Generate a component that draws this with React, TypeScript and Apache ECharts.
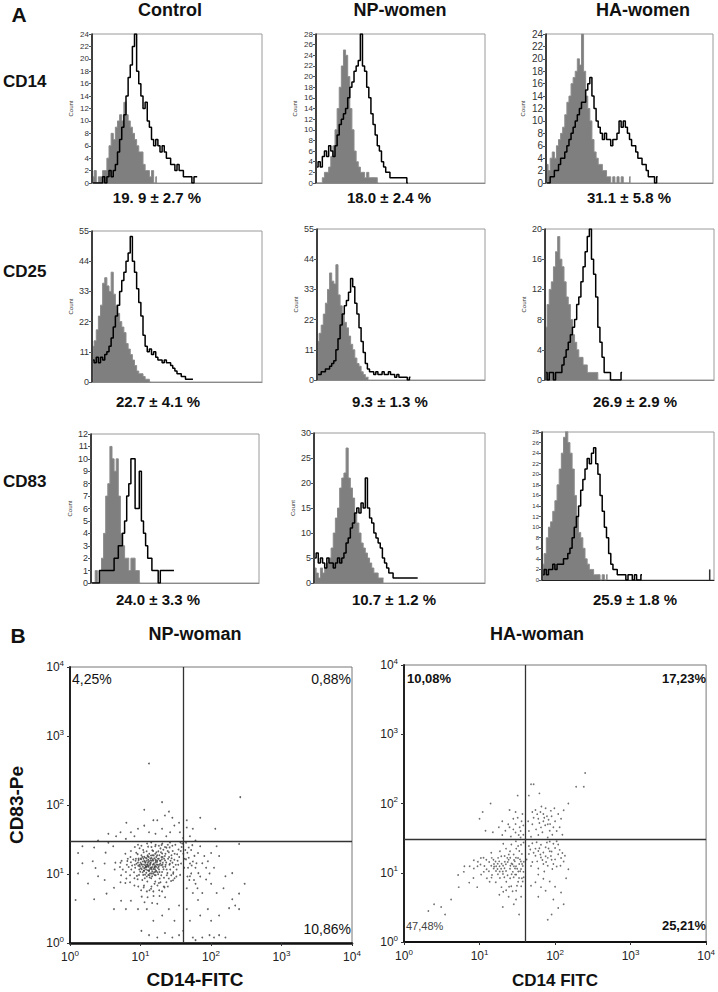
import React, { useEffect, useRef } from 'react';
import * as echarts from 'echarts';

// ---------- texts ----------
const columnTitles = ['Control', 'NP-women', 'HA-women'];
const markerNames = ['CD14', 'CD25', 'CD83'];
const percentLabels = [
  ['19. 9 ± 2.7 %', '18.0 ± 2.4 %', '31.1 ± 5.8 %'],
  ['22.7 ± 4.1 %', '9.3 ± 1.3 %', '26.9 ± 2.9 %'],
  ['24.0 ± 3.3 %', '10.7 ± 1.2 %', '25.9 ± 1.8 %'],
];
const countMax = [[24, 28, 24], [55, 55, 20], [12, 30, 28]];
const countStep = [[2, 2, 2], [11, 11, 4], [1, 5, 2]];
const binCount = 80;

// ---------- histogram data (counts per channel bin) ----------
// gray = isotype control, black = stained
const ctrlCD14Iso = [1, 2, 0, 1, 1, 2, 2, 4, 6, 8, 7, 9, 10, 11, 10, 13, 11, 10, 9, 8, 7, 6, 5, 5, 3, 2, 2, 1, 2, 0, 1];
const ctrlCD14Stain = [0, 0, 0, 0, 0, 1, 0, 1, 2, 1, 2, 3, 5, 7, 9, 11, 14, 17, 19, 22, 24, 18, 16, 14, 12, 13, 10, 9, 7, 6, 7, 6, 5, 6, 5, 4, 4, 3, 3, 2, 3, 2, 2, 1, 1, 1, 1, 0, 1, 1];
const npCD14Iso = [0, 0, 0, 1, 2, 2, 3, 5, 7, 10, 14, 18, 22, 25, 24, 20, 14, 10, 6, 4, 3, 2, 2, 1, 2, 1, 1, 1, 1, 0];
const npCD14Stain = [3, 4, 3, 5, 6, 5, 7, 6, 5, 7, 9, 11, 12, 13, 14, 16, 18, 19, 21, 22, 23, 28, 22, 21, 18, 16, 13, 11, 9, 7, 6, 4, 3, 2, 2, 1, 1, 1, 1, 1, 1, 1, 1, 0];
const haCD14Iso = [3, 2, 4, 5, 4, 6, 7, 8, 9, 11, 13, 14, 16, 17, 18, 20, 19, 24, 18, 14, 12, 10, 7, 5, 4, 3, 3, 2, 2, 1, 1, 0, 1, 0, 1, 0, 1, 0, 0, 0, 1];
const haCD14Stain = [0, 0, 1, 1, 2, 2, 3, 4, 4, 5, 6, 7, 8, 9, 10, 11, 12, 13, 13, 15, 16, 17, 14, 12, 10, 9, 8, 7, 8, 7, 7, 6, 7, 7, 8, 10, 9, 10, 9, 8, 7, 6, 6, 5, 4, 4, 3, 3, 2, 1, 1, 1, 0, 1];
const ctrlCD25Iso = [13, 15, 19, 24, 28, 36, 38, 35, 33, 40, 32, 28, 25, 22, 20, 18, 14, 12, 10, 8, 6, 4, 3, 3, 2, 1, 1, 0];
const ctrlCD25Stain = [8, 7, 9, 7, 9, 8, 10, 11, 13, 16, 20, 24, 28, 33, 37, 40, 44, 47, 53, 44, 40, 34, 29, 24, 17, 13, 11, 12, 10, 11, 9, 8, 8, 7, 8, 7, 7, 6, 5, 4, 3, 3, 2, 2, 1, 1, 1, 1];
const npCD25Iso = [14, 17, 20, 24, 28, 33, 39, 36, 35, 42, 31, 27, 24, 21, 19, 16, 13, 11, 8, 6, 5, 3, 2, 1, 1];
const npCD25Stain = [2, 2, 3, 3, 4, 4, 5, 6, 7, 11, 15, 20, 24, 27, 29, 32, 37, 34, 28, 24, 19, 14, 10, 6, 4, 3, 3, 2, 3, 2, 2, 3, 2, 2, 3, 2, 2, 1, 2, 1, 1, 1, 1, 0, 1];
const haCD25Iso = [7, 10, 12, 13, 15, 17, 19, 16, 15, 13, 11, 10, 8, 6, 5, 4, 3, 3, 2, 2, 1, 1, 1, 1, 1, 0];
const haCD25Stain = [1, 0, 1, 1, 0, 1, 1, 1, 2, 3, 4, 5, 6, 7, 8, 10, 11, 13, 15, 17, 19, 20, 16, 14, 11, 7, 5, 3, 1, 1, 1, 0, 0, 0, 0, 0, 1];
const ctrlCD83Iso = [0, 0, 1, 0, 1, 2, 4, 7, 8, 11, 10, 9, 10, 7, 4, 3, 2, 2, 1, 2, 2, 1, 1, 0];
const ctrlCD83Stain = [0, 0, 0, 0, 1, 1, 1, 1, 1, 1, 1, 2, 2, 3, 3, 4, 5, 7, 8, 10, 10, 6, 6, 9, 5, 4, 3, 2, 2, 1, 1, 1, 0, 1, 1, 1, 1, 1, 1, 1];
const npCD83Iso = [3, 2, 1, 3, 2, 3, 4, 5, 7, 10, 13, 15, 19, 21, 22, 27, 21, 19, 17, 14, 12, 10, 8, 7, 6, 5, 4, 3, 2, 2, 1, 1, 1];
const npCD83Stain = [5, 6, 4, 5, 4, 3, 5, 4, 4, 3, 4, 5, 4, 5, 6, 8, 9, 11, 12, 14, 15, 14, 16, 15, 21, 15, 13, 12, 10, 9, 8, 7, 5, 4, 3, 2, 2, 1, 1, 1, 1, 1, 1, 1, 1, 1, 1, 1, 1];
const haCD83Iso = [3, 5, 8, 10, 11, 13, 15, 18, 21, 24, 27, 29, 26, 24, 21, 16, 12, 9, 8, 6, 4, 3, 2, 2, 1, 1, 1, 0, 1, 0, 1];
const haCD83Stain = [1, 2, 1, 2, 2, 3, 2, 3, 3, 3, 4, 4, 5, 6, 8, 10, 12, 14, 17, 19, 21, 23, 22, 24, 25, 22, 20, 16, 13, 10, 8, 5, 3, 2, 2, 1, 1, 1, 1, 0, 1, 1, 0, 1, 0, 0, 1];
const haCD83StainTail = [[78, 2]];

const histData = [
  [[ctrlCD14Iso, ctrlCD14Stain], [npCD14Iso, npCD14Stain], [haCD14Iso, haCD14Stain]],
  [[ctrlCD25Iso, ctrlCD25Stain], [npCD25Iso, npCD25Stain], [haCD25Iso, haCD25Stain]],
  [[ctrlCD83Iso, ctrlCD83Stain], [npCD83Iso, npCD83Stain], [haCD83Iso, haCD83Stain]],
];

// ---------- dot plot data (CD14-FITC, CD83-Pe) ----------
const gateFITC = 40;
const gatePe = 30;
const npQuadrants = ['4,25%', '0,88%', '10,86%'];
const haQuadrants = ['10,08%', '17,23%', '47,48%', '25,21%'];

const npPoints = [
  [12.4,13.6],[15.3,11.8],[10.2,16.4],[18.6,10.7],[9.3,13.2],[14.1,18.5],[20.7,14.6],[11.6,9.8],[16.2,19.7],[13.5,8.9],[8.4,12.3],[22.5,12.8],[17.3,15.6],[12.2,21.4],[10.6,8.2],[25.4,17.6],[14.7,10.9],[19.2,23.5],[7.3,14.8],[11.3,17.7],
  [15.8,7.2],[23.6,9.6],[9.1,19.4],[13.2,15.3],[16.6,12.7],[20.3,19.8],[8.2,8.7],[28.4,14.6],[12.7,11.3],[18.2,16.6],[10.4,11.7],[14.3,24.6],[21.5,8.8],[6.2,10.7],[17.6,12.2],[11.2,13.7],[24.3,21.5],[13.8,16.8],[9.5,9.7],[19.6,13.4],
  [15.2,15.7],[12.5,7.8],[26.4,11.6],[8.6,16.6],[16.4,9.6],[20.6,17.6],[10.3,18.7],[14.6,12.6],[30.5,19.6],[11.7,12.4],[18.4,13.6],[13.3,19.6],[7.4,11.6],[22.3,15.7],[15.6,10.6],[9.2,14.7],[17.2,18.6],[12.3,15.6],[25.7,13.6],[10.7,10.6],
  [14.2,8.7],[19.5,20.6],[16.3,14.7],[11.4,15.5],[21.2,11.7],[13.6,11.8],[8.3,13.6],[27.5,18.7],[12.1,12.6],[15.4,18.6],[18.7,8.6],[10.5,13.6],[23.2,14.7],[14.5,15.6],[9.4,16.7],[16.7,17.6],[20.2,10.7],[12.6,18.6],[11.5,8.7],[17.5,13.6],
  [13.4,9.6],[24.6,16.6],[10.1,16.7],[15.5,13.7],[19.3,15.6],[14.4,11.6],[8.1,10.6],[22.6,19.6],[12.8,14.7],[18.3,11.6],[11.1,20.6],[16.5,15.5],[13.7,13.6],[29.4,12.6],[9.6,11.6],[15.1,21.6],[20.5,13.6],[10.8,12.7],[17.4,10.6],[14.8,18.7],
  [12.9,9.7],[21.6,16.6],[11.8,14.6],[19.7,9.6],[13.1,17.6],[16.1,11.6],[8.5,15.6],[25.2,20.6],[12.2,16.8],[15.7,12.6],[18.5,18.7],[10.9,9.7],[14.9,13.6],[23.5,11.6],[11.9,12.8],[17.7,16.6],[13.9,15.7],[20.8,12.6],[9.7,13.6],[16.8,20.6],
  [12.0,11.6],[26.7,15.6],[14.0,14.6],[19.8,17.6],[11.0,16.6],[15.9,9.7],[13.0,12.7],[22.7,13.6],[10.0,14.6],[18.8,15.6],[12.6,13.8],[16.9,13.7],[35.4,17.6],[32.5,11.6],[28.6,21.6],[38.3,24.6],[33.6,15.6],[36.4,9.7],[40.5,19.6],[31.2,26.6],
  [34.3,13.6],[37.2,21.6],[30.4,8.7],[42.3,16.6],[5.3,9.6],[6.4,13.6],[5.1,12.6],[6.3,8.6],[7.2,17.6],[5.4,15.6],[6.6,16.6],[7.1,7.6],[4.3,11.6],[6.1,19.6],[5.2,7.6],[7.3,21.6],[4.4,14.6],[8.3,24.6],[9.2,26.6],[10.3,25.6],
  [12.4,27.6],[14.2,28.6],[16.4,26.6],[18.2,25.6],[20.4,27.6],[22.2,24.6],[24.4,26.6],[26.2,28.6],[28.3,25.6],[11.2,6.8],[13.4,5.8],[15.2,5.6],[17.4,6.8],[19.2,7.6],[21.4,6.6],[14.3,6.6],[16.2,7.8],[12.3,5.6],[10.2,5.8],[9.3,6.6],
  [8.2,6.8],[18.4,5.8],[20.2,5.6],[23.3,7.6],[25.2,8.6],[27.3,9.6],[29.2,10.6],[24.4,6.6],[15.3,4.8],[12.6,4.6],[10.4,4.7],[18.6,4.8],[22.3,4.6],[14.6,3.8],[17.3,3.7],[11.4,3.9],[13.2,11.2],[16.3,10.8],[11.2,11.1],[14.3,10.2],
  [11.3,12.1],[13.7,14.3],[10.8,15.2],[14.9,16.3],[12.1,10.4],[9.8,12.9],[16.1,13.1],[13.2,11.1],[11.7,13.4],[15.4,14.2],[12.9,16.1],[10.3,13.9],[14.2,12.2],[17.1,14.9],[11.9,17.2],[13.6,10.2],[9.9,10.8],[15.7,16.9],[12.4,12.9],[18.1,12.8],
  [8.8,14.1],[14.6,9.3],[11.2,11.2],[16.7,11.1],[13.1,13.3],[10.6,17.6],[19.1,14.2],[12.7,17.9],[15.1,10.1],[9.4,15.9],[14.3,17.1],[17.8,9.9],[11.6,14.9],[13.9,12.4],[10.1,12.1],[16.4,16.2],[12.3,9.2],[20.1,16.4],[8.9,9.4],[15.9,12.3],
  [7.6,13.3],[6.8,12.6],[7.9,16.2],[6.5,15.4],[24.1,10.3],[26.1,14.1],[27.6,16.9],[22.1,18.2],[21.1,22.4],[17.9,21.3],[14.7,22.1],[10.9,22.3],[8.7,20.3],[23.3,24.1],[19.9,26.4],[16.2,25.3],[12.8,24.9],[9.7,23.6],[30.2,16.1],[31.6,13.6],
  [29.1,10.1],[33.1,19.3],[27.1,7.9],[21.9,6.4],[18.2,7.4],[14.1,6.1],[11.1,6.4],[9.1,8.4],[7.1,9.6],[6.1,7.4],[25.9,24.3],[34.6,22.6],[37.6,14.2],[41.6,12.3],[39.1,27.6],[36.9,28.6],[32.3,9.2],[28.9,8.1],[5.6,11.6],[5.2,14.6],
  [3.1,14.2],[2.5,9.3],[3.2,20.4],[2.1,15.3],[4.2,6.3],[3.3,5.2],[2.2,4.3],[3.1,8.2],[4.1,25.3],[2.3,12.2],[1.5,14.3],[1.3,10.2],[1.2,4.2],[1.8,7.3],[2.2,24.2],[3.5,28.3],[4.5,35.3],[6.2,32.3],[7.3,40.3],[9.2,45.2],
  [11.3,50.2],[8.2,35.3],[13.2,40.3],[16.3,38.2],[20.2,45.3],[23.2,35.2],[26.3,40.2],[30.2,50.3],[36.2,40.3],[40.2,33.2],[45.3,47.2],[50.2,35.3],[55.2,45.3],[60.3,30.5],[44.2,28.3],[52.2,22.3],[48.3,17.2],[55.3,15.2],[60.2,12.3],[65.3,20.2],
  [70.2,25.3],[80.3,18.2],[90.2,15.3],[100.3,20.2],[110.2,12.3],[130.3,18.2],[160.2,9.3],[70.3,9.2],[85.2,8.3],[60.3,7.2],[50.2,9.3],[45.3,6.2],[55.2,5.3],[65.3,4.2],[75.2,5.3],[100.3,7.2],[120.2,5.3],[150.3,6.2],[200.2,4.3],[220.3,3.5],
  [250.2,3.1],[180.3,3.2],[90.2,3.1],[70.3,2.5],[50.2,2.1],[45.3,3.1],[35.2,3.5],[30.3,2.1],[25.2,3.1],[20.3,2.5],[15.2,2.1],[12.3,3.1],[9.2,3.1],[7.3,4.1],[6.2,3.1],[5.3,4.1],[4.2,3.1],[10.3,1.5],[13.2,1.3],[17.3,1.2],
  [22.2,1.4],[28.3,1.2],[35.2,1.3],[40.3,1.5],[55.2,1.2],[60.3,1.1],[75.2,1.2],[95.3,1.3],[110.2,1.2],[130.3,1.3],[160.2,1.2],[100.3,2.1],[130.2,2.5],[17.3,60.2],[22.2,70.3],[25.3,80.2],[20.2,110],[11.3,85.2],[13.2,400],[70.3,65.2],
  [115,45.3],[260,130],[250,27.3],[300,7.2],[200,10.3],[250,5.2],[85.2,12.3],[120,25.2],[45.3,60.2],[35.2,55.3],[28.3,65.2],[15.2,60.3],[6.3,55.2],[5.2,40.3],[3.5,38.2],[2.5,30.6],[1.5,25.3],[1.3,20.2],[47.2,12.3],[50.3,14.2],
  [46.2,20.3],[52.3,10.2],[58.2,18.3],[48.3,24.2],[62.2,14.3],[54.3,26.2],[66.2,10.3],[49.3,8.2],[44.2,16.3],[46.3,9.2],[53.2,13.3],[57.3,8.2],[43.2,22.3],[64.3,6.2],[75.2,14.3],[95.3,10.2],
];

const haPoints = [
  [20.3,10.4],[15.6,12.3],[25.4,8.3],[18.2,14.6],[12.4,11.2],[30.6,9.4],[22.3,13.3],[16.4,7.3],[28.5,12.4],[10.3,13.2],[35.4,11.3],[19.5,6.2],[24.3,15.4],[14.6,9.3],[32.4,7.4],[21.4,11.6],[17.6,16.4],[26.3,6.4],[13.4,14.3],[38.2,10.3],
  [23.5,9.2],[11.4,10.3],[29.3,14.6],[18.6,8.4],[33.5,13.4],[15.3,15.4],[27.6,10.3],[20.6,5.3],[36.3,8.3],[12.5,8.3],[25.6,12.6],[19.4,17.3],[31.5,11.4],[16.5,10.6],[22.6,7.4],[34.3,15.6],[14.3,12.6],[28.3,8.6],[21.6,14.4],[9.4,12.4],
  [37.4,12.5],[24.6,6.3],[17.3,11.3],[30.3,16.5],[13.6,7.4],[26.5,13.6],[20.4,9.6],[35.6,6.4],[15.5,13.4],[23.3,16.4],[11.6,12.5],[32.6,10.4],[18.4,12.4],[27.4,5.4],[16.3,14.5],[29.6,9.4],[22.4,10.6],[10.5,9.4],[38.5,14.4],[25.3,11.4],
  [14.5,16.4],[33.3,8.4],[19.6,13.5],[36.5,13.4],[21.3,8.6],[12.3,15.4],[28.6,15.3],[17.5,9.5],[24.4,18.3],[31.3,6.5],[15.4,11.5],[26.6,9.5],[8.4,11.5],[34.5,10.5],[20.5,12.6],[13.3,10.5],[30.5,5.5],[23.6,14.3],[18.5,10.4],[37.3,7.5],
  [9.5,14.4],[27.3,13.3],[16.6,12.4],[22.5,5.6],[35.3,14.5],[11.3,16.5],[29.5,11.5],[19.3,11.4],[32.3,16.3],[14.4,8.5],[25.5,16.5],[7.4,12.4],[21.5,17.5],[38.4,8.6],[17.4,13.5],[30.4,12.4],
  [25.3,20.4],[30.6,22.3],[35.4,25.3],[28.3,18.4],[33.6,20.6],[38.3,27.4],[22.4,22.3],[18.6,20.4],[36.3,18.6],[30.3,28.4],[26.4,25.6],[14.3,19.4],[20.6,26.3],[32.4,24.4],
  [24.3,4.5],[30.4,4.1],[18.3,4.8],[35.5,4.5],[28.4,3.5],[20.3,3.2],[33.4,2.5],
  [8.3,8.4],[6.2,10.3],[7.3,7.2],[5.3,6.2],[4.2,4.1],[3.1,3.2],[2.5,3.5],[3.5,2.5],[2.1,2.8],[9.3,6.2],[6.3,12.4],[10.4,16.3],[8.4,15.2],[5.2,9.3],
  [75,17.3],[60,20.6],[90,15.4],[50,14.3],[110,18.5],[65,25.4],[80,12.6],[55,22.3],[100,22.7],[70,13.4],[45,18.6],[120,16.3],[85,20.4],[60,11.5],[95,26.3],[50,26.6],[130,14.5],[75,23.4],[65,16.6],[105,12.3],
  [55,17.6],[85,28.3],[48,12.5],[115,21.4],[70,19.6],[92,11.3],[58,14.6],[78,27.4],[125,19.3],[62,22.6],[88,17.5],[45,24.3],[100,15.6],[72,10.4],[52,19.4],[110,25.6],[68,15.3],[82,22.4],[42,15.5],[135,17.6],
  [95,13.4],[57,27.6],[76,14.3],[118,12.6],[64,18.4],[90,20.3],[47,21.6],[105,28.5],[80,16.4],[60,9.4],
  [70,8.2],[55,7.3],[85,7.5],[65,6.2],[100,6.3],[48,6.5],[75,5.5],[120,5.2],[95,4.1],[60,4.5],[110,3.1],[130,3.5],[90,2.5],[80,2.1],[140,8.3],[150,11.2],
  [25,45.3],[30,50.4],[35,40.2],[20,55.3],[28,60.4],[33,35.2],[38,48.3],[22,40.4],[30,38.2],[36,55.3],[26,33.4],[32,62.3],[18,45.4],[38,35.3],[24,50.2],[34,45.4],[28,42.3],[15,38.4],[20,35.2],[12,40.3],
  [35,32.4],[10,60.3],[14,100],[11,75.3],[32,130],[37,70.4],[30,75.2],[25,80.3],
  [60,60.3],[70,70.4],[80,50.2],[55,80.3],[90,65.4],[65,45.2],[75,85.3],[100,55.4],[50,50.2],[85,40.3],[110,70.4],[60,35.2],[70,55.3],[95,45.4],[45,40.2],[120,60.3],[78,65.4],[58,70.2],[88,78.3],[68,38.4],
  [105,40.2],[52,62.3],[82,58.4],[64,75.2],[92,35.3],[74,48.4],[48,33.2],[115,45.3],[62,52.4],[98,85.2],[56,42.3],[86,50.4],[72,62.2],[44,55.3],[125,35.4],[66,90.2],[80,32.3],[50,75.4],[48,190],[52,190],
  [62,140],[190,175],[240,175],[250,275],[150,100],[130,80],[45,130],
];

// ---------- layout ----------
const histGrids = [
  [[92, 34, 170, 149], [316, 34, 169, 149], [546, 34, 167, 149]],
  [[92, 231, 170, 151], [317, 229, 168, 151], [545, 229, 169, 151]],
  [[91, 434, 168, 149], [314, 433, 171, 150], [542, 432, 172, 148]],
];
const histLabelSize = [[8, 8, 10], [9, 9, 9], [9, 9, 6]];
const titleX = [170, 400, 643];
const percentX = [[157, 389, 629], [158, 390, 635], [158, 394, 635]];
const percentY = [197, 401, 599];
const rowLabelY = [81, 271, 481];
const FONT = '"Liberation Sans", Arial, Helvetica, sans-serif';

export default function App() {
  const ref = useRef<HTMLDivElement>(null);

  useEffect(() => {
    if (!ref.current) return;
    const chart = echarts.init(ref.current, undefined, { renderer: 'svg' });

    const grid: any[] = [];
    const xAxis: any[] = [];
    const yAxis: any[] = [];
    const series: any[] = [];

    for (let r = 0; r < 3; r++) {
      for (let c = 0; c < 3; c++) {
        const k = grid.length;
        const [l, t, w, h] = histGrids[r][c];
        grid.push({ left: l, top: t, width: w, height: h, show: true, borderColor: '#9a9a9a', borderWidth: 1, backgroundColor: 'transparent' });
        xAxis.push({
          type: 'value', gridIndex: k, min: 0, max: binCount,
          axisLine: { show: true, onZero: false, lineStyle: { color: r === 2 && c === 2 ? '#222' : '#8a8a8a', width: 1 } },
          axisTick: { show: false }, axisLabel: { show: false }, splitLine: { show: false },
        });
        const showName = !(r === 2 && c === 2);
        yAxis.push({
          type: 'value', gridIndex: k, min: 0, max: countMax[r][c], interval: countStep[r][c],
          name: showName ? 'Count' : '', nameLocation: 'middle', nameGap: c === 2 && r === 0 ? 20 : 18,
          nameTextStyle: { fontSize: 6, color: '#333', fontFamily: FONT },
          axisLine: { show: true, lineStyle: { color: '#111', width: 1.5 } },
          axisTick: { show: true, length: 3, lineStyle: { color: '#555' } },
          axisLabel: { fontSize: histLabelSize[r][c], color: '#333', margin: 3, fontFamily: FONT },
          splitLine: { show: false },
        });
        const [iso, stain] = histData[r][c];
        series.push({
          type: 'line', xAxisIndex: k, yAxisIndex: k, step: 'middle', symbol: 'none',
          data: iso.map((v: number, i: number) => [i + 0.5, v]),
          lineStyle: { color: '#8c8c8c', width: 1 },
          areaStyle: { color: '#7f7f7f', opacity: 1 },
          z: 2,
        });
        series.push({
          type: 'line', xAxisIndex: k, yAxisIndex: k, step: 'middle', symbol: 'none',
          data: stain.map((v: number, i: number) => [i + 0.5, v]),
          lineStyle: { color: '#000', width: 1.5 },
          z: 3,
        });
        if (r === 2 && c === 2) {
          series.push({
            type: 'bar', xAxisIndex: k, yAxisIndex: k, barWidth: 1.5,
            data: haCD83StainTail, itemStyle: { color: '#333' }, z: 3,
          });
        }
      }
    }

    const logLabel = {
      formatter: (v: number) => `{b|10}{s|${Math.round(Math.log10(v))}}`,
      rich: {
        b: { fontSize: 12, color: '#222', fontFamily: FONT },
        s: { fontSize: 8, color: '#222', fontFamily: FONT, padding: [0, 0, 8, 0] },
      },
    };
    const dotGrids = [[70, 667, 282, 276], [404, 665, 304, 277]];
    const dotData = [npPoints, haPoints];
    dotGrids.forEach(([l, t, w, h], j) => {
      const k = grid.length;
      grid.push({ left: l, top: t, width: w, height: h, show: true, borderColor: '#777', borderWidth: 1, backgroundColor: 'transparent' });
      xAxis.push({
        type: 'log', logBase: 10, gridIndex: k, min: 1, max: 10000,
        axisLine: { show: true, onZero: false, lineStyle: { color: '#111', width: j === 0 ? 2.5 : 1.8 } },
        axisTick: { show: true, length: 3, lineStyle: { color: '#333' } },
        axisLabel: { ...logLabel, margin: 6 },
        splitLine: { show: false },
      });
      yAxis.push({
        type: 'log', logBase: 10, gridIndex: k, min: 1, max: 10000,
        axisLine: { show: true, onZero: false, lineStyle: { color: '#111', width: 1.8 } },
        axisTick: { show: true, length: 3, lineStyle: { color: '#333' } },
        axisLabel: { ...logLabel, margin: 6 },
        splitLine: { show: false },
      });
      series.push({
        type: 'scatter', xAxisIndex: k, yAxisIndex: k, data: dotData[j],
        symbolSize: j === 0 ? 1.8 : 1.7, itemStyle: { color: j === 0 ? '#3a3a3a' : '#4a4a4a' },
        markLine: {
          silent: true, symbol: 'none', label: { show: false },
          lineStyle: { color: '#333', width: 1.3, type: 'solid' },
          data: [{ xAxis: gateFITC }, { yAxis: gatePe }],
        },
        z: 3,
      });
    });

    const txt = (text: string, x: number, y: number, size: number, opts: any = {}) => ({
      type: 'text', x, y, silent: true,
      style: {
        text, fontSize: size, fontFamily: FONT, fontWeight: opts.weight || 'bold', fill: opts.fill || '#111',
        textAlign: opts.align || 'center', textVerticalAlign: 'middle',
      },
      rotation: opts.rotation || 0,
    });

    const graphic: any[] = [];
    graphic.push(txt('A', 19, 14, 21));
    columnTitles.forEach((t, c) => graphic.push(txt(t, titleX[c], 10, 18)));
    markerNames.forEach((t, r) => graphic.push(txt(t, 3, rowLabelY[r], 17, { align: 'left' })));
    percentLabels.forEach((row, r) => row.forEach((t, c) => graphic.push(txt(t, percentX[r][c], percentY[r], 15))));
    graphic.push(txt('B', 18, 635, 21));
    graphic.push(txt('NP-woman', 195, 634, 18));
    graphic.push(txt('HA-woman', 537, 634, 18));
    graphic.push(txt('CD83-Pe', 16, 805, 19, { rotation: Math.PI / 2 }));
    graphic.push(txt('CD14-FITC', 195, 979, 19));
    graphic.push(txt('CD14 FITC', 555, 980, 17));
    graphic.push(txt(npQuadrants[0], 72, 679, 14, { align: 'left', weight: 'normal' }));
    graphic.push(txt(npQuadrants[1], 351, 679, 14, { align: 'right', weight: 'normal' }));
    graphic.push(txt(npQuadrants[2], 351, 929, 14, { align: 'right', weight: 'normal' }));
    graphic.push(txt(haQuadrants[0], 407, 678, 13, { align: 'left' }));
    graphic.push(txt(haQuadrants[1], 706, 678, 13, { align: 'right' }));
    graphic.push(txt(haQuadrants[2], 406, 926, 11, { align: 'left', weight: 'normal', fill: '#444' }));
    graphic.push(txt(haQuadrants[3], 706, 925, 13, { align: 'right' }));

    chart.setOption({
      animation: false,
      backgroundColor: '#fff',
      grid, xAxis, yAxis, series, graphic,
    });
    return () => chart.dispose();
  }, []);

  return <div ref={ref} style={{ position: 'absolute', left: 0, top: 0, width: 718, height: 992 }} />;
}
